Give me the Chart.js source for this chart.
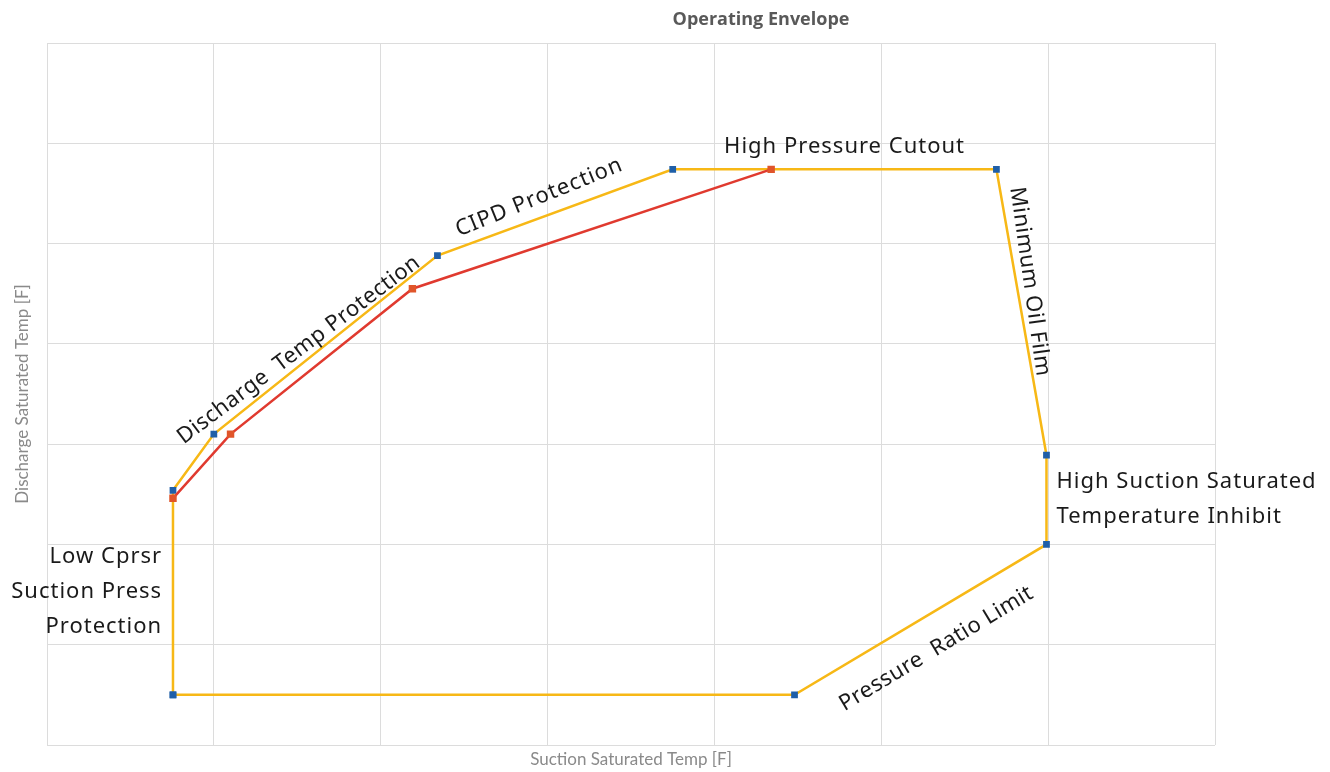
<!DOCTYPE html>
<html>
<head>
<meta charset="utf-8">
<script src="https://cdn.jsdelivr.net/npm/chart.js@4/dist/chart.umd.min.js"></script>
<style>
  html, body { margin: 0; padding: 0; background: #fff; }
  #wrap { width: 1330px; height: 772px; }
</style>
</head>
<body>
<div id="wrap"><canvas id="chart" width="1330" height="772"></canvas></div>
<script>
// envelope (yellow) corners, in grid units
const envX = [0.755, 4.48, 5.99, 5.99, 5.69, 3.75, 2.34, 1.0, 0.755, 0.755];
const envY = [0.50, 0.50, 2.00, 2.89, 5.74, 5.74, 4.88, 3.10, 2.54, 0.50];

// inner limit (red) line
const limX = [0.755, 1.10, 2.19, 4.34];
const limY = [2.46, 3.10, 4.55, 5.74];

const gridMin = 0;
const gridMax = 7;

// text labels on the plot
const notes = [
    { lines: ['High Pressure Cutout'], x: 4.78, y: 5.97, angle: 0, align: 'center', gap: 1 },
    { lines: ['CIPD Protection'], x: 2.95, y: 5.46, angle: -22, align: 'center', gap: 1 },
    { lines: ['Discharge  Temp Protection'], x: 1.51, y: 3.94, angle: -37, align: 'center', gap: 0.5 },
    { lines: ['Minimum Oil Film'], x: 5.89, y: 4.62, angle: 82, align: 'center', gap: 0.5 },
    { lines: ['Pressure  Ratio Limit'], x: 5.33, y: 0.96, angle: -31, align: 'center', gap: 0.5 },
    { lines: ['High Suction Saturated', 'Temperature Inhibit'], x: 6.05, y: 2.63, angle: 0, align: 'left', gap: 1 },
    { lines: ['Low Cprsr', 'Suction Press', 'Protection'], x: 0.69, y: 1.875, angle: 0, align: 'right', gap: 1 }
];

const toPoints = (xs, ys) => xs.map((x, i) => ({ x: x, y: ys[i] }));

// 注記と図タイトルを描画
const notePlugin = {
    id: 'notes',
    afterDatasetsDraw(chart) {
        const ctx = chart.ctx;
        const sx = chart.scales.x;
        const sy = chart.scales.y;
        ctx.save();
        ctx.fillStyle = '#1a1a1a';
        ctx.font = '22px "Noto Sans"';
        ctx.textBaseline = 'middle';
        notes.forEach(n => {
            const px = sx.getPixelForValue(n.x);
            const py = sy.getPixelForValue(n.y);
            ctx.save();
            ctx.letterSpacing = n.gap + 'px';
            ctx.translate(px, py);
            ctx.rotate(n.angle * Math.PI / 180);
            ctx.textAlign = n.align;
            n.lines.forEach((line, i) => ctx.fillText(line, 0, i * 35));
            ctx.restore();
        });
        ctx.restore();

        ctx.save();
        ctx.fillStyle = '#595959';
        ctx.font = 'bold 18px "Open Sans"';
        ctx.textAlign = 'center';
        ctx.textBaseline = 'middle';
        ctx.fillText('Operating Envelope', 761, 20);
        ctx.restore();
    }
};

const ctx = document.getElementById('chart').getContext('2d');
new Chart(ctx, {
    type: 'scatter',
    data: {
        datasets: [
            {
                label: 'Limit',
                data: toPoints(limX, limY),
                showLine: true,
                borderColor: '#e03a2f',
                borderWidth: 2.5,
                pointStyle: 'rect',
                pointRadius: 3.5,
                pointBackgroundColor: '#e0552a',
                pointBorderColor: '#e0552a',
                order: 0
            },
            {
                label: 'Envelope',
                data: toPoints(envX, envY),
                showLine: true,
                borderColor: '#f7b816',
                borderWidth: 2.5,
                pointStyle: 'rect',
                pointRadius: 3,
                pointBackgroundColor: '#1f5fa8',
                pointBorderColor: '#1f5fa8',
                order: 1
            }
        ]
    },
    options: {
        responsive: false,
        animation: false,
        layout: { padding: { left: 0, top: 43, right: 115, bottom: 0 } },
        plugins: {
            legend: { display: false },
            tooltip: { enabled: false }
        },
        scales: {
            x: {
                type: 'linear',
                min: gridMin,
                max: gridMax,
                ticks: { display: false, stepSize: 1 },
                grid: { color: '#dcdcdc', lineWidth: 1, drawTicks: false },
                border: { display: false },
                title: {
                    display: true,
                    text: 'Suction Saturated Temp [F]',
                    color: '#8a8a8a',
                    font: { family: 'Lato', size: 17 },
                    padding: { top: 2, bottom: 2 }
                },
                afterFit(scale) { scale.height = 27; }
            },
            y: {
                type: 'linear',
                min: gridMin,
                max: gridMax,
                ticks: { display: false, stepSize: 1 },
                grid: { color: '#dcdcdc', lineWidth: 1, drawTicks: false },
                border: { display: false },
                title: {
                    display: true,
                    text: 'Discharge Saturated Temp [F]',
                    color: '#8a8a8a',
                    font: { family: 'Lato', size: 17 },
                    padding: { top: 12, bottom: 2 }
                },
                afterFit(scale) { scale.width = 47; }
            }
        }
    },
    plugins: [notePlugin]
});
</script>
</body>
</html>
